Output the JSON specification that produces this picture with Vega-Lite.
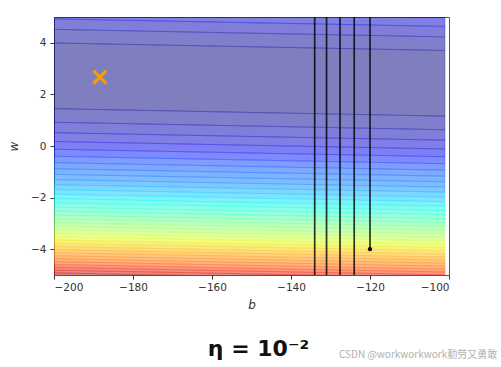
{
  "$schema": "https://vega.github.io/schema/vega-lite/v6.json",
  "width": 395,
  "height": 258,
  "autosize": "none",
  "padding": {"left": 54, "top": 17, "right": 52, "bottom": 92},
  "background": "white",
  "config": {
    "view": {"stroke": "#555", "strokeWidth": 1},
    "axis": {"labelFont": "DejaVu Sans", "labelFontSize": 10.5, "labelColor": "#333", "tickColor": "#333", "tickSize": 4, "domain": false, "grid": false, "titleFont": "DejaVu Sans", "titleFontSize": 12, "titleFontWeight": "normal", "titleFontStyle": "italic", "titleColor": "#333"}
  },
  "title": {"text": "η = 10⁻²", "orient": "bottom", "anchor": "middle", "font": "DejaVu Sans", "fontSize": 22, "fontWeight": "bold", "color": "#111", "offset": -21, "dx": 7},
  "datasets": {
    "bands": [
      {"id":"c0","k":0,"b":-200,"lo":1.447,"hi":3.993},{"id":"c0","k":0,"b":-101,"lo":1.157,"hi":3.703},
      {"id":"u1","k":1,"b":-200,"lo":3.993,"hi":4.520},{"id":"u1","k":1,"b":-101,"lo":3.703,"hi":4.230},
      {"id":"u2","k":2,"b":-200,"lo":4.520,"hi":4.925},{"id":"u2","k":2,"b":-101,"lo":4.230,"hi":4.635},
      {"id":"u3","k":3,"b":-200,"lo":4.925,"hi":5.266},{"id":"u3","k":3,"b":-101,"lo":4.635,"hi":4.976},
      {"id":"u4","k":4,"b":-200,"lo":5.266,"hi":5.566},{"id":"u4","k":4,"b":-101,"lo":4.976,"hi":5.276},
      {"id":"l1","k":1,"b":-200,"lo":0.920,"hi":1.447},{"id":"l1","k":1,"b":-101,"lo":0.630,"hi":1.157},
      {"id":"l2","k":2,"b":-200,"lo":0.515,"hi":0.920},{"id":"l2","k":2,"b":-101,"lo":0.225,"hi":0.630},
      {"id":"l3","k":3,"b":-200,"lo":0.174,"hi":0.515},{"id":"l3","k":3,"b":-101,"lo":-0.116,"hi":0.225},
      {"id":"l4","k":4,"b":-200,"lo":-0.126,"hi":0.174},{"id":"l4","k":4,"b":-101,"lo":-0.416,"hi":-0.116},
      {"id":"l5","k":5,"b":-200,"lo":-0.398,"hi":-0.126},{"id":"l5","k":5,"b":-101,"lo":-0.688,"hi":-0.416},
      {"id":"l6","k":6,"b":-200,"lo":-0.647,"hi":-0.398},{"id":"l6","k":6,"b":-101,"lo":-0.937,"hi":-0.688},
      {"id":"l7","k":7,"b":-200,"lo":-0.880,"hi":-0.647},{"id":"l7","k":7,"b":-101,"lo":-1.170,"hi":-0.937},
      {"id":"l8","k":8,"b":-200,"lo":-1.098,"hi":-0.880},{"id":"l8","k":8,"b":-101,"lo":-1.388,"hi":-1.170},
      {"id":"l9","k":9,"b":-200,"lo":-1.305,"hi":-1.098},{"id":"l9","k":9,"b":-101,"lo":-1.595,"hi":-1.388},
      {"id":"l10","k":10,"b":-200,"lo":-1.501,"hi":-1.305},{"id":"l10","k":10,"b":-101,"lo":-1.791,"hi":-1.595},
      {"id":"l11","k":11,"b":-200,"lo":-1.689,"hi":-1.501},{"id":"l11","k":11,"b":-101,"lo":-1.979,"hi":-1.791},
      {"id":"l12","k":12,"b":-200,"lo":-1.869,"hi":-1.689},{"id":"l12","k":12,"b":-101,"lo":-2.159,"hi":-1.979},
      {"id":"l13","k":13,"b":-200,"lo":-2.042,"hi":-1.869},{"id":"l13","k":13,"b":-101,"lo":-2.332,"hi":-2.159},
      {"id":"l14","k":14,"b":-200,"lo":-2.210,"hi":-2.042},{"id":"l14","k":14,"b":-101,"lo":-2.500,"hi":-2.332},
      {"id":"l15","k":15,"b":-200,"lo":-2.371,"hi":-2.210},{"id":"l15","k":15,"b":-101,"lo":-2.661,"hi":-2.500},
      {"id":"l16","k":16,"b":-200,"lo":-2.528,"hi":-2.371},{"id":"l16","k":16,"b":-101,"lo":-2.818,"hi":-2.661},
      {"id":"l17","k":17,"b":-200,"lo":-2.680,"hi":-2.528},{"id":"l17","k":17,"b":-101,"lo":-2.970,"hi":-2.818},
      {"id":"l18","k":18,"b":-200,"lo":-2.828,"hi":-2.680},{"id":"l18","k":18,"b":-101,"lo":-3.118,"hi":-2.970},
      {"id":"l19","k":19,"b":-200,"lo":-2.972,"hi":-2.828},{"id":"l19","k":19,"b":-101,"lo":-3.262,"hi":-3.118},
      {"id":"l20","k":20,"b":-200,"lo":-3.112,"hi":-2.972},{"id":"l20","k":20,"b":-101,"lo":-3.402,"hi":-3.262},
      {"id":"l21","k":21,"b":-200,"lo":-3.250,"hi":-3.112},{"id":"l21","k":21,"b":-101,"lo":-3.540,"hi":-3.402},
      {"id":"l22","k":22,"b":-200,"lo":-3.384,"hi":-3.250},{"id":"l22","k":22,"b":-101,"lo":-3.674,"hi":-3.540},
      {"id":"l23","k":23,"b":-200,"lo":-3.515,"hi":-3.384},{"id":"l23","k":23,"b":-101,"lo":-3.805,"hi":-3.674},
      {"id":"l24","k":24,"b":-200,"lo":-3.644,"hi":-3.515},{"id":"l24","k":24,"b":-101,"lo":-3.934,"hi":-3.805},
      {"id":"l25","k":25,"b":-200,"lo":-3.770,"hi":-3.644},{"id":"l25","k":25,"b":-101,"lo":-4.060,"hi":-3.934},
      {"id":"l26","k":26,"b":-200,"lo":-3.894,"hi":-3.770},{"id":"l26","k":26,"b":-101,"lo":-4.184,"hi":-4.060},
      {"id":"l27","k":27,"b":-200,"lo":-4.015,"hi":-3.894},{"id":"l27","k":27,"b":-101,"lo":-4.305,"hi":-4.184},
      {"id":"l28","k":28,"b":-200,"lo":-4.134,"hi":-4.015},{"id":"l28","k":28,"b":-101,"lo":-4.424,"hi":-4.305},
      {"id":"l29","k":29,"b":-200,"lo":-4.251,"hi":-4.134},{"id":"l29","k":29,"b":-101,"lo":-4.541,"hi":-4.424},
      {"id":"l30","k":30,"b":-200,"lo":-4.367,"hi":-4.251},{"id":"l30","k":30,"b":-101,"lo":-4.657,"hi":-4.541},
      {"id":"l31","k":31,"b":-200,"lo":-4.480,"hi":-4.367},{"id":"l31","k":31,"b":-101,"lo":-4.770,"hi":-4.657},
      {"id":"l32","k":32,"b":-200,"lo":-4.592,"hi":-4.480},{"id":"l32","k":32,"b":-101,"lo":-4.882,"hi":-4.770},
      {"id":"l33","k":33,"b":-200,"lo":-4.702,"hi":-4.592},{"id":"l33","k":33,"b":-101,"lo":-4.992,"hi":-4.882},
      {"id":"l34","k":34,"b":-200,"lo":-4.810,"hi":-4.702},{"id":"l34","k":34,"b":-101,"lo":-5.100,"hi":-4.992},
      {"id":"l35","k":35,"b":-200,"lo":-4.917,"hi":-4.810},{"id":"l35","k":35,"b":-101,"lo":-5.207,"hi":-5.100},
      {"id":"l36","k":36,"b":-200,"lo":-5.022,"hi":-4.917},{"id":"l36","k":36,"b":-101,"lo":-5.312,"hi":-5.207},
      {"id":"l37","k":37,"b":-200,"lo":-5.126,"hi":-5.022},{"id":"l37","k":37,"b":-101,"lo":-5.416,"hi":-5.312}
    ],
    "path": [
      {"b": -134.0, "w1": -5.3, "w2": 5.3},
      {"b": -131.0, "w1": -5.3, "w2": 5.3},
      {"b": -127.6, "w1": -5.3, "w2": 5.3},
      {"b": -124.0, "w1": -5.3, "w2": 5.3},
      {"b": -120.0, "w1": -4.0, "w2": 5.3}
    ],
    "start": [{"b": -120.0, "w": -4.0}],
    "target": [{"b": -188.4, "w": 2.67}],
    "note": [{"text": "CSDN @workworkwork勤劳又勇敢"}]
  },
  "layer": [
    {
      "data": {"name": "bands"},
      "mark": {"type": "area", "clip": true, "fillOpacity": 0.5, "strokeOpacity": 0.3, "strokeWidth": 0.8},
      "encoding": {
        "x": {"field": "b", "type": "quantitative", "scale": {"domain": [-200, -100], "nice": false, "zero": false}, "axis": {"values": [-200, -180, -160, -140, -120, -100], "title": "b", "labelPadding": 3, "titlePadding": 7}},
        "y": {"field": "lo", "type": "quantitative", "scale": {"domain": [-5, 5], "nice": false, "zero": false}, "axis": {"values": [-4, -2, 0, 2, 4], "title": "w", "labelPadding": 4, "titlePadding": 10}},
        "y2": {"field": "hi"},
        "detail": {"field": "id", "type": "nominal"},
        "color": {"field": "k", "type": "quantitative", "legend": null, "scale": {"domain": [0, 4.75, 9.5, 14.25, 19, 23.75, 28.5, 33.25, 38], "range": ["#000080", "#0000ff", "#0080ff", "#15ffe2", "#7bff7b", "#e2ff15", "#ff9700", "#ff2100", "#800000"]}},
        "stroke": {"field": "k", "type": "quantitative", "legend": null, "scale": {"domain": [0, 4.75, 9.5, 14.25, 19, 23.75, 28.5, 33.25, 38], "range": ["#000080", "#0000ff", "#0080ff", "#15ffe2", "#7bff7b", "#e2ff15", "#ff9700", "#ff2100", "#800000"]}}
      }
    },
    {
      "data": {"name": "path"},
      "mark": {"type": "rule", "clip": true, "color": "black", "strokeWidth": 1.7, "opacity": 0.8},
      "encoding": {
        "x": {"field": "b", "type": "quantitative"},
        "y": {"field": "w1", "type": "quantitative"},
        "y2": {"field": "w2"}
      }
    },
    {
      "data": {"name": "start"},
      "mark": {"type": "point", "filled": true, "color": "black", "size": 18, "opacity": 1},
      "encoding": {
        "x": {"field": "b", "type": "quantitative"},
        "y": {"field": "w", "type": "quantitative"}
      }
    },
    {
      "data": {"name": "target"},
      "mark": {"type": "point", "shape": "M-1,-1L1,1M-1,1L1,-1", "filled": false, "color": "#f5a000", "strokeWidth": 3, "size": 170, "opacity": 1},
      "encoding": {
        "x": {"field": "b", "type": "quantitative"},
        "y": {"field": "w", "type": "quantitative"}
      }
    },
    {
      "data": {"name": "note"},
      "mark": {"type": "text", "align": "right", "baseline": "middle", "font": "Noto Sans CJK SC", "fontSize": 10, "color": "#b0b0b0"},
      "encoding": {
        "x": {"datum": -87.8},
        "y": {"datum": -8.12},
        "text": {"field": "text"}
      }
    }
  ]
}
